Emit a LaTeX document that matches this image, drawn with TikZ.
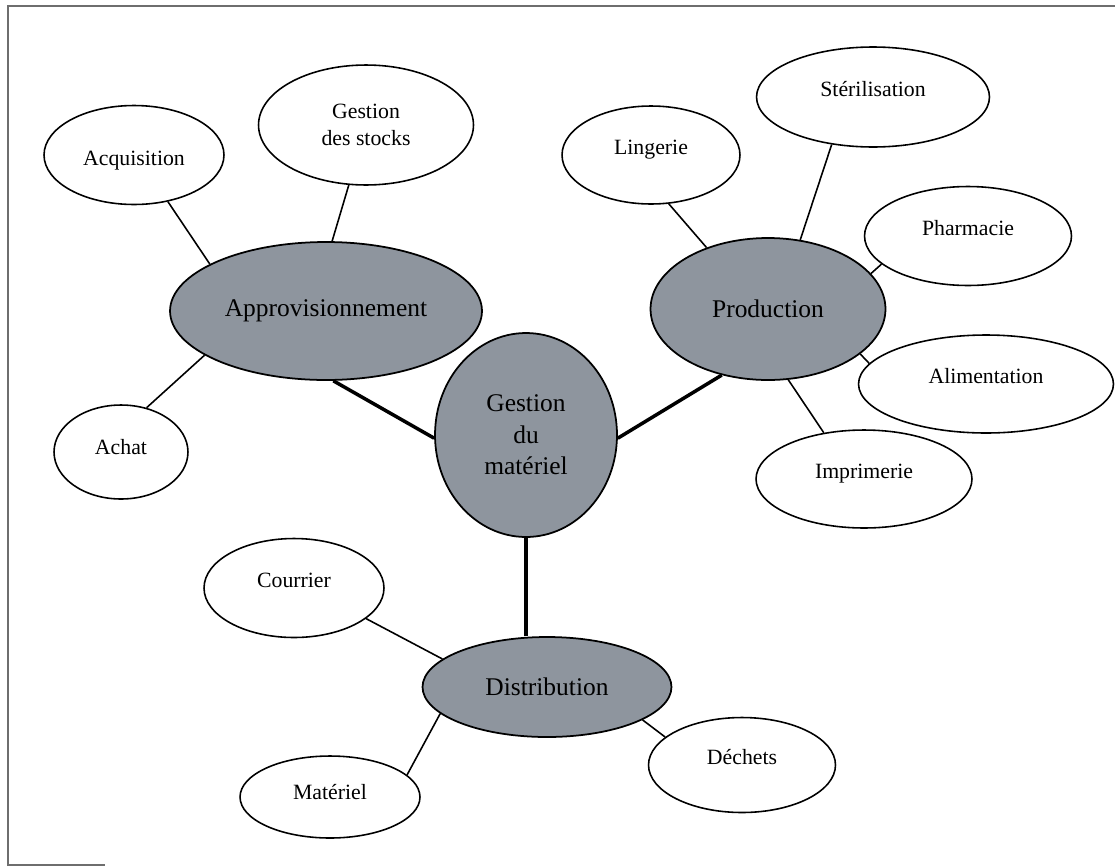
\documentclass[tikz,border=0pt]{standalone}
\usepackage{fontspec}
\setmainfont{Liberation Serif}
\usepackage{xcolor}
\usepackage{tikz}
\usetikzlibrary{shapes.geometric}

\definecolor{hubgray}{RGB}{142,149,158}
\definecolor{framegray}{RGB}{110,110,110}

\begin{document}
\begin{tikzpicture}[
    x=0.02cm, y=-0.02cm,
    leaf/.style={ellipse, draw, fill=white, inner sep=0pt, line width=0.9pt, align=center, font=\fontsize{12.4}{15}\selectfont},
    hub/.style={ellipse, draw, fill=hubgray, inner sep=0pt, line width=1pt, align=center, font=\fontsize{14.5}{18}\selectfont},
    raised/.style={text height=0.3cm, text depth=0.34cm},
    halfraised/.style={text height=0.3cm, text depth=0.22cm},
    lowered/.style={text height=0.5cm, text depth=0.1cm},
    link/.style={line width=0.9pt},
    trunk/.style={line width=2pt}
]
\useasboundingbox (0,0) rectangle (1115,866);
\draw[framegray, line width=1pt] (8,866) -- (8,6) -- (1115,6);
\draw[framegray, line width=0.6pt] (8,865) -- (105,865);

\node[hub, minimum width=3.64cm, minimum height=4.08cm] (gdm) at (526,435) {Gestion\\du\\matériel};
\node[hub, minimum width=6.24cm, minimum height=2.76cm] (appro) at (326,311) {Approvisionnement};
\node[hub, minimum width=4.7cm, minimum height=2.84cm] (prod) at (768,309) {Production};
\node[hub, minimum width=4.98cm, minimum height=2cm] (distr) at (547,687) {Distribution};

\node[leaf, lowered, minimum width=3.6cm, minimum height=1.98cm] (acq) at (134,155) {Acquisition};
\node[leaf, minimum width=4.3cm, minimum height=2.4cm] (stocks) at (366,125) {Gestion\\des stocks};
\node[leaf, halfraised, minimum width=2.68cm, minimum height=1.88cm] (achat) at (121,452) {Achat};

\node[leaf, raised, minimum width=3.56cm, minimum height=1.96cm] (linge) at (651,155) {Lingerie};
\node[leaf, raised, minimum width=4.66cm, minimum height=2cm] (steril) at (873,97) {Stérilisation};
\node[leaf, raised, minimum width=4.14cm, minimum height=1.98cm] (pharma) at (968,236) {Pharmacie};
\node[leaf, raised, minimum width=5.1cm, minimum height=1.96cm] (alim) at (986,384) {Alimentation};
\node[leaf, raised, minimum width=4.32cm, minimum height=1.96cm] (imprim) at (864,479) {Imprimerie};

\node[leaf, raised, minimum width=3.6cm, minimum height=1.98cm] (courrier) at (294,588) {Courrier};
\node[leaf, halfraised, minimum width=3.6cm, minimum height=1.64cm] (mat) at (330,797) {Matériel};
\node[leaf, raised, minimum width=3.74cm, minimum height=1.9cm] (dechets) at (742,765) {Déchets};

\draw[trunk] (gdm.182) -- (appro.-84);
\draw[trunk] (gdm.-2) -- (prod.-125);
\draw[trunk] (gdm.south) -- (gdm.south |- distr.north);

\draw[link] (acq.-54) -- (appro.158);
\draw[link] (stocks.-106) -- (appro.85);
\draw[link] (achat.60) -- (appro.200);

\draw[link] (linge.-70) -- (prod.135);
\draw[link] (steril.-131) -- (prod.65);
\draw[link] (pharma.198) -- (prod.19);
\draw[link] (alim.170) -- (prod.-26);
\draw[link] (imprim.131) -- (prod.-74);

\draw[link] (courrier.-23) -- (distr.165);
\draw[link] (mat.16) -- (distr.194);
\draw[link] (dechets.160) -- (distr.-19);

\end{tikzpicture}
\end{document}
